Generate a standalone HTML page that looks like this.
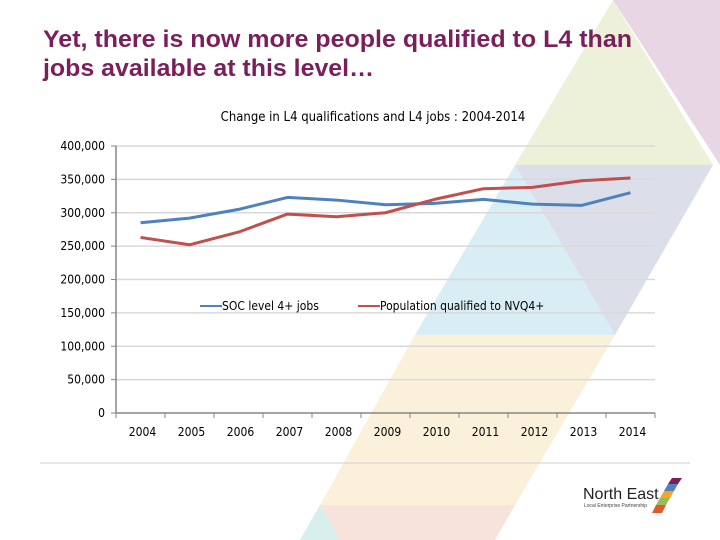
<!DOCTYPE html>
<html><head><meta charset="utf-8"><style>
body{margin:0;width:720px;height:540px;overflow:hidden;background:#fff;font-family:"Liberation Sans",sans-serif;position:relative}
svg{position:absolute;left:0;top:0}
</style></head><body>
<svg width="720" height="540">
<g>
<polygon points="613,0 720,0 720,165" fill="#e9d6e4"/>
<polygon points="613,0 713,165 515,165" fill="#eef1d9"/>
<polygon points="515,165 713,165 615,335" fill="#dcdfea"/>
<polygon points="515,165 615,335 415,335" fill="#d8edf4"/>
<polygon points="415,335 615,335 515,505 320,505" fill="#fbf1da"/>
<polygon points="320,505 515,505 495,540 340,540" fill="#f8e2dc"/>
<polygon points="320,505 340,540 300,540" fill="#d6efea"/>
</g>
<text x="43" y="47" font-size="24" font-weight="bold" fill="#7a1f5c" textLength="589" lengthAdjust="spacingAndGlyphs">Yet, there is now more people qualified to L4 than</text>
<text x="43" y="76" font-size="24" font-weight="bold" fill="#7a1f5c" textLength="331" lengthAdjust="spacingAndGlyphs">jobs available at this level…</text>
<text x="373" y="121" font-size="13" text-anchor="middle" fill="#000" font-family="DejaVu Sans Condensed, DejaVu Sans, sans-serif">Change in L4 qualifications and L4 jobs : 2004-2014</text>
<g id="grid"></g><g id="axes"></g><g id="series"></g>
<g font-family="DejaVu Sans Condensed, DejaVu Sans, sans-serif">
<line x1="200" y1="306" x2="222" y2="306" stroke="#4f81bd" stroke-width="2"/>
<text x="222" y="310" font-size="12">SOC level 4+ jobs</text>
<line x1="358" y1="306" x2="380" y2="306" stroke="#c0504d" stroke-width="2"/>
<text x="380" y="310" font-size="12">Population qualified to NVQ4+</text>
</g>
<line x1="40" y1="463" x2="690" y2="463" stroke="#d0d0d0" stroke-width="1"/>
<g>
<text x="583" y="499" font-size="16" fill="#222">North East</text>
<text x="584" y="507" font-size="5" fill="#444">Local Enterprise Partnership</text>
<polygon points="672,478 682,478 678,484 668,484" fill="#7a1f5c"/>
<polygon points="668,484 678,484 674,491 664,491" fill="#4f81bd"/>
<polygon points="664,491 674,491 670,498 660,498" fill="#f5a623"/>
<polygon points="660,498 670,498 666,505 656,505" fill="#9bbb59"/>
<polygon points="656,505 666,505 662,513 652,513" fill="#e05a2b"/>
</g>
</svg>
<script>
const years=["2004","2005","2006","2007","2008","2009","2010","2011","2012","2013","2014"];
const socJobs=[285000,292000,305000,323000,319000,312000,314000,320000,313000,311000,330000];
const nvq4=[263000,252000,271000,298000,294000,300000,320000,336000,338000,348000,352000];
const yTicks=[0,50000,100000,150000,200000,250000,300000,350000,400000];
const NS="http://www.w3.org/2000/svg";
const x0=116,x1=655,yTop=146,yBot=413,yMax=400000;
const FF="DejaVu Sans Condensed, DejaVu Sans, sans-serif";
function xs(i){return x0+(x1-x0)/years.length*(i+0.5);}
function ys(v){return yBot-(v/yMax)*(yBot-yTop);}
function mk(t,a,p){const e=document.createElementNS(NS,t);for(const k in a)e.setAttribute(k,a[k]);p.appendChild(e);return e;}
const grid=document.getElementById('grid'),axes=document.getElementById('axes'),ser=document.getElementById('series');
yTicks.forEach(v=>{
 const y=ys(v);
 if(v>0){const g=mk('line',{x1:x0,x2:x1,y1:y,y2:y,stroke:'#d9d9d9','stroke-width':1.5},grid);
 
 }
 const tk=mk('line',{x1:x0-5,x2:x0,y1:y,y2:y,stroke:'#868686'},axes);
 
 
 const t=mk('text',{x:x0-11,y:y+4,'font-size':12,'text-anchor':'end','font-family':FF},axes);
 t.textContent=v.toLocaleString('en-US');
 
 
});
const ya=mk('line',{x1:x0,x2:x0,y1:yTop,y2:yBot,stroke:'#868686','stroke-width':1.5},axes);


const xa=mk('line',{x1:x0,x2:x1,y1:yBot,y2:yBot,stroke:'#868686','stroke-width':1.5},axes);


for(let i=0;i<=years.length;i++){
 const x=x0+(x1-x0)/years.length*i;
 const tk=mk('line',{x1:x,x2:x,y1:yBot,y2:yBot+5,stroke:'#868686'},axes);
 
 
}
years.forEach((yr,i)=>{
 const t=mk('text',{x:xs(i)+2,y:436,'font-size':12,'text-anchor':'middle','font-family':FF},axes);
 t.textContent=yr;
 
 
});
function line(arr,col,name){
 const p=mk('polyline',{points:arr.map((v,i)=>xs(i)+','+ys(v)).join(' '),fill:'none',stroke:col,'stroke-width':3,'stroke-linejoin':'round'},ser);
 
 
}
line(socJobs,'#4f81bd','soc-jobs-line');
line(nvq4,'#c0504d','nvq4-line');
</script>
</body></html>
